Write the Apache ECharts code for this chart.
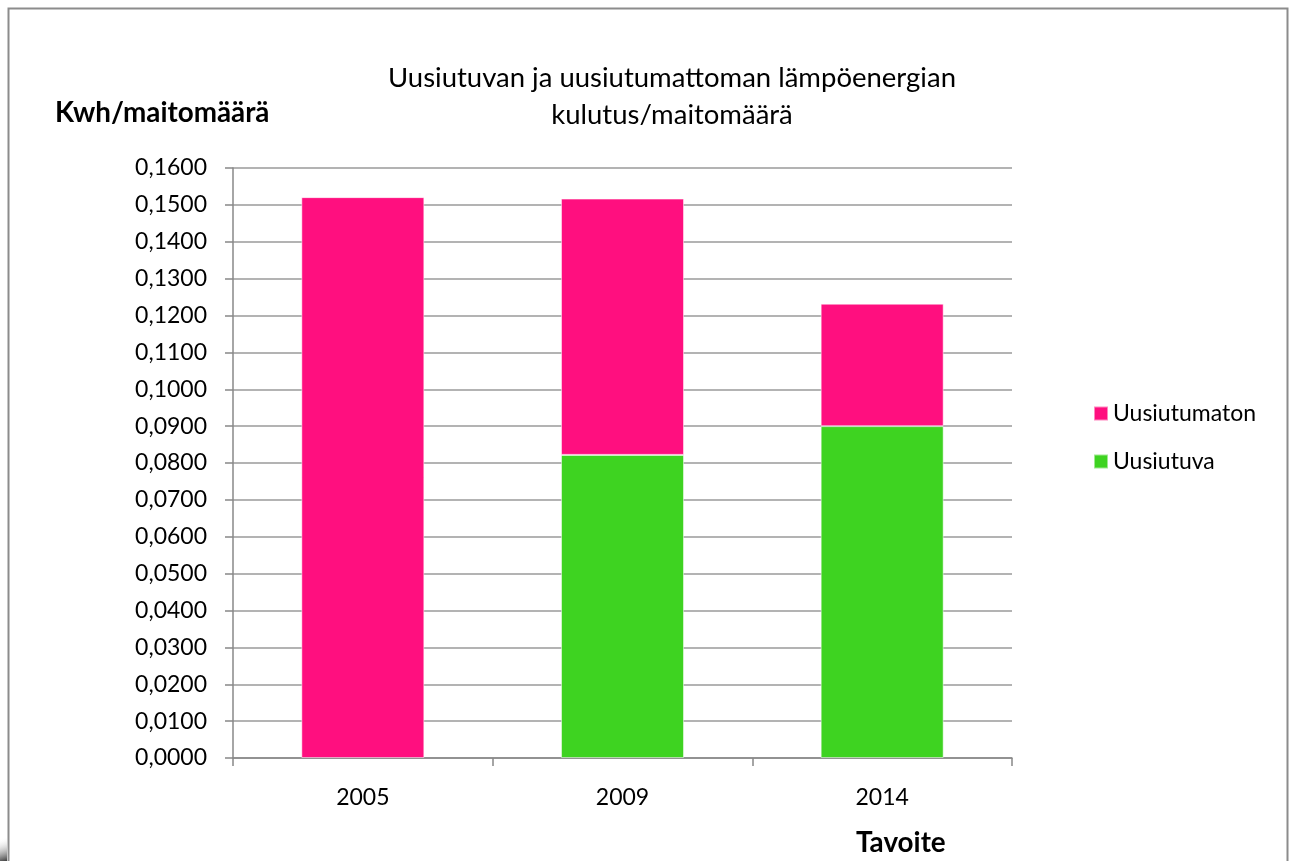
<!DOCTYPE html>
<html>
<head>
<meta charset="utf-8">
<script src="https://cdn.jsdelivr.net/npm/echarts@6/dist/echarts.min.js"></script>
<style>
  html, body { margin: 0; padding: 0; background: #fff; }
  #chart { width: 1289px; height: 861px; }
</style>
</head>
<body>
<div id="chart"></div>
<script>
// data
const years = ['2005', '2009', '2014'];
const uusiutuva = [null, 0.0822, 0.0900];
const uusiutumaton = [0.1521, 0.0695, 0.0332];
const yMin = 0;
const yMax = 0.16;
const yStep = 0.01;

const chart = echarts.init(document.getElementById('chart'));
const font = 'Lato, "Open Sans", sans-serif';

const option = {
  backgroundColor: '#fff',
  animation: false,
  title: {
    text: 'Uusiutuvan ja uusiutumattoman lämpöenergian\nkulutus/maitomäärä',
    left: 667,
    top: 55,
    textAlign: 'center',
    textStyle: {
      fontFamily: font,
      fontWeight: 'normal',
      fontSize: 27.5,
      lineHeight: 37,
      color: '#000'
    }
  },
  legend: {
    orient: 'vertical',
    left: 1093,
    top: 402,
    padding: 0,
    itemWidth: 14,
    itemHeight: 14,
    itemGap: 25,
    icon: 'rect',
    data: ['Uusiutumaton', 'Uusiutuva'],
    textStyle: { fontFamily: font, fontSize: 23, color: '#000' }
  },
  grid: {
    left: 233,
    right: 277,
    top: 168,
    bottom: 103,
    containLabel: false
  },
  xAxis: {
    type: 'category',
    data: years,
    axisLine: { lineStyle: { color: '#888', width: 1.5 } },
    axisTick: { show: true, length: 8, alignWithLabel: false, lineStyle: { color: '#888', width: 1.5 } },
    axisLabel: { margin: 28, fontFamily: font, fontSize: 23, color: '#000' }
  },
  yAxis: {
    type: 'value',
    min: yMin,
    max: yMax,
    interval: yStep,
    axisLine: { show: true, lineStyle: { color: '#888', width: 1.5 } },
    axisTick: { show: true, length: 8, lineStyle: { color: '#888', width: 1.5 } },
    splitLine: { lineStyle: { color: '#9a9a9a', width: 1.5 } },
    axisLabel: {
      margin: 26,
      fontFamily: font,
      fontSize: 23,
      color: '#000',
      formatter: function (v) {
        return v.toFixed(4).replace('.', ',');
      }
    }
  },
  graphic: [
    {
      type: 'rect',
      silent: true,
      shape: { x: 8.5, y: 8.5, width: 1279, height: 900 },
      style: { fill: 'none', stroke: '#8c8c8c', lineWidth: 2 }
    },
    {
      type: 'rect',
      silent: true,
      shape: { x: 0, y: 838, width: 7, height: 23 },
      style: {
        fill: new echarts.graphic.LinearGradient(0, 0, 1, 1, [
          { offset: 0, color: 'rgba(255,255,255,0)' },
          { offset: 1, color: 'rgba(40,40,40,0.9)' }
        ])
      }
    },
    {
      type: 'text',
      left: 55,
      top: 99,
      style: { text: 'Kwh/maitomäärä', fontFamily: font, fontWeight: 'bold', fontSize: 27.8, fill: '#000' }
    },
    {
      type: 'text',
      left: 856,
      top: 829,
      style: { text: 'Tavoite', fontFamily: font, fontWeight: 'bold', fontSize: 27.8, fill: '#000' }
    }
  ],
  series: [
    {
      name: 'Uusiutuva',
      type: 'bar',
      stack: 'total',
      barWidth: 123,
      data: uusiutuva,
      itemStyle: { color: '#3ED321', borderColor: 'rgba(255,255,255,0.5)', borderWidth: 1 }
    },
    {
      name: 'Uusiutumaton',
      type: 'bar',
      stack: 'total',
      barWidth: 123,
      data: uusiutumaton,
      itemStyle: { color: '#FF0F7F', borderColor: 'rgba(255,255,255,0.5)', borderWidth: 1 }
    }
  ]
};

chart.setOption(option);
</script>
</body>
</html>
